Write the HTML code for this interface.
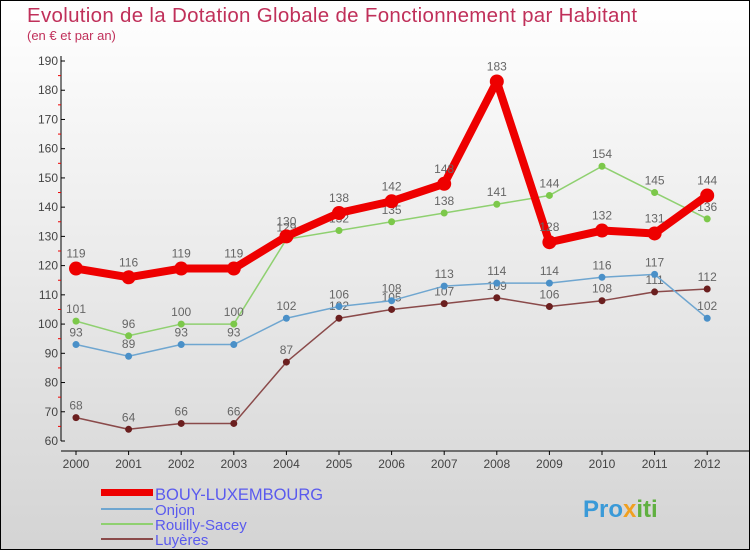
<!DOCTYPE html>
<html><head><meta charset="utf-8"><style>
body{margin:0;width:750px;height:550px;overflow:hidden;font-family:"Liberation Sans",sans-serif}
#wrap{position:relative;width:748px;height:548px;border:1px solid #000;background:linear-gradient(#ffffff,#d4d4d4)}
</style></head><body>
<div id="wrap">
<svg id="c" width="748" height="548" xmlns="http://www.w3.org/2000/svg">
<text x="26" y="21" font-size="20.5" fill="#c0305a" letter-spacing="0.3">Evolution de la Dotation Globale de Fonctionnement par Habitant</text>
<text x="26" y="39" font-size="13" fill="#c0305a">(en € et par an)</text>
<g id="axes"></g><g id="series"></g>
<g>
<rect x="100" y="488" width="52" height="7" fill="#e00"/>
<rect x="100" y="507" width="52" height="2" fill="#6fa6d0"/>
<rect x="100" y="522" width="52" height="2" fill="#8fd070"/>
<rect x="100" y="537" width="52" height="2" fill="#8a4a4a"/>
<text x="154" y="499" font-size="16.5" fill="#5a5aee">BOUY-LUXEMBOURG</text>
<text x="154" y="514" font-size="15" fill="#5a5aee">Onjon</text>
<text x="154" y="529" font-size="15" fill="#5a5aee">Rouilly-Sacey</text>
<text x="154" y="544" font-size="15" fill="#5a5aee">Luyères</text>
</g>
<text x="582" y="516" font-size="24" font-weight="bold" fill="#3a9ad8">Pro<tspan fill="#f0a020">x</tspan><tspan fill="#60b040">iti</tspan></text>
</svg></div>
<script>
const years=[2000,2001,2002,2003,2004,2005,2006,2007,2008,2009,2010,2011,2012];
const bouy=[119,116,119,119,130,138,142,148,183,128,132,131,144];
const onjon=[93,89,93,93,102,106,108,113,114,114,116,117,102];
const rouilly=[101,96,100,100,129,132,135,138,141,144,154,145,136];
const luyeres=[68,64,66,66,87,102,105,107,109,106,108,111,112];
const yTicks=[60,70,80,90,100,110,120,130,140,150,160,170,180,190];
const NS="http://www.w3.org/2000/svg";
const X=i=>75+i*52.6, Y=v=>440-(v-60)*380/130;
function mk(t,a,p){const e=document.createElementNS(NS,t);for(const k in a)e.setAttribute(k,a[k]);p.appendChild(e);return e;}
const ax=document.getElementById('axes'), sr=document.getElementById('series');
let l=mk('line',{x1:60,y1:55,x2:60,y2:440,stroke:'#000'},ax);


l=mk('line',{x1:60,y1:450,x2:748,y2:450,stroke:'#000'},ax);


yTicks.forEach(v=>{mk('line',{x1:60,y1:Y(v),x2:64,y2:Y(v),stroke:'#000'},ax);
 if(v<190)mk('line',{x1:57,y1:Y(v+5),x2:60,y2:Y(v+5),stroke:'#e00'},ax);
 const t=mk('text',{x:57,y:Y(v)+4,'font-size':12,fill:'#444','text-anchor':'end'},ax);t.textContent=v;
 
 });
years.forEach((y,i)=>{mk('line',{x1:X(i),y1:450,x2:X(i),y2:454,stroke:'#000'},ax);
 const t=mk('text',{x:X(i),y:467,'font-size':12,fill:'#444','text-anchor':'middle'},ax);t.textContent=y;
 
 });
function draw(d,col,pc,w,r,name,dy){
 const g=mk('g',{},sr);
 
 
 mk('polyline',{points:d.map((v,i)=>X(i)+','+Y(v)).join(' '),fill:'none',stroke:col,'stroke-width':w,'stroke-linejoin':'round'},g);
 d.forEach((v,i)=>{const c=mk('circle',{cx:X(i),cy:Y(v),r:r,fill:pc},g);
  
  
  const t=mk('text',{x:X(i),y:Y(v)+dy,'font-size':12,fill:'#666','text-anchor':'middle'},g);t.textContent=v;
  
  });
}
draw(luyeres,'#8a4a4a','#6b1f1f',1.5,3.5,'luyeres',-8);
draw(rouilly,'#8fd070','#7cc84a',1.5,3.5,'rouilly',-8);
draw(onjon,'#6fa6d0','#4a90c8',1.5,3.5,'onjon',-8);
draw(bouy,'#e00','#e00',8,7,'bouy',-11);
</script>
</body></html>
